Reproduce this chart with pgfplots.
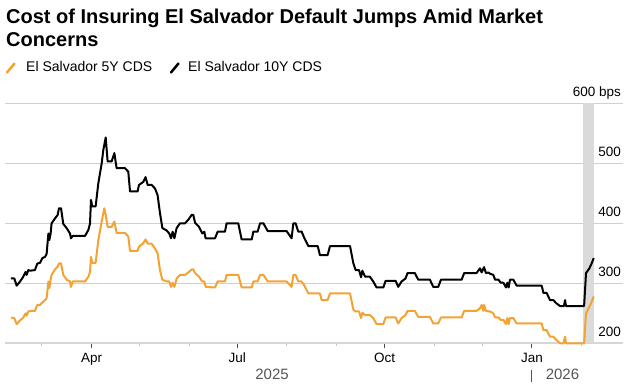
\documentclass[border=0pt]{standalone}
\usepackage{fontspec}
\setmainfont{Liberation Sans}
\usepackage{pgfplots}
\pgfplotsset{compat=1.18}
\definecolor{cdsorange}{HTML}{F4A232}
\definecolor{gridgray}{HTML}{D0D0D0}
\definecolor{axisgray}{HTML}{D6D6D6}
\definecolor{bandgray}{HTML}{DADADA}
\definecolor{yeargray}{HTML}{555555}
\begin{document}
\begin{tikzpicture}
\useasboundingbox (0pt,0pt) rectangle (633pt,390pt);
\node[anchor=base west, inner sep=0pt, font=\fontsize{20}{24}\selectfont\bfseries] at (6pt,366pt) {Cost of Insuring El Salvador Default Jumps Amid Market};
\node[anchor=base west, inner sep=0pt, font=\fontsize{20}{24}\selectfont\bfseries] at (6pt,343pt) {Concerns};
\draw[cdsorange, line width=2.5pt, line cap=round] (7pt,317.5pt) -- (14.5pt,326.5pt);
\node[anchor=base west, inner sep=0pt, font=\fontsize{14}{16}\selectfont] at (26pt,318pt) {El Salvador 5Y CDS};
\draw[black, line width=2.5pt, line cap=round] (171pt,317.5pt) -- (178.5pt,326.5pt);
\node[anchor=base west, inner sep=0pt, font=\fontsize{14}{16}\selectfont] at (188pt,318pt) {El Salvador 10Y CDS};
\begin{axis}[
  at={(5pt,46.7pt)}, anchor=south west,
  scale only axis, width=618pt, height=240pt,
  xmin=35.9, xmax=421.9, ymin=200, ymax=600,
  clip=false,
  axis line style={draw=none},
  /pgf/number format/assume math mode=true,
  xtick={90,181,273,365}, xticklabels={Apr,Jul,Oct,Jan},
  minor xtick={59,120,151,212,243,304,334,396},
  xtick pos=bottom, tick align=outside,
  major tick length=5pt, minor tick length=3pt,
  every major tick/.append style={draw=black!70, line width=1pt},
  every minor tick/.append style={draw=black!22, line width=1pt},
  xticklabel style={anchor=base, inner sep=0pt, yshift=-14.7pt, font=\fontsize{13.5}{16}\selectfont},
  ytick={200,300,400,500,600}, yticklabels={200,300,400,500,600 bps},
  ytick style={draw=none},
  yticklabel pos=right,
  yticklabel style={anchor=base east, inner sep=0pt, xshift=-7pt, yshift=6.5pt, font=\fontsize{13.5}{16}\selectfont},
  ymajorgrids, grid style={gridgray, line width=1pt},
  extra y ticks={200}, extra y tick labels={},
  extra y tick style={grid style={axisgray, line width=2pt}},
]
\fill[bandgray] (axis cs:396.8,200) rectangle (axis cs:403.6,600);
\addplot[cdsorange, line width=2pt, line join=round] coordinates {
(39.6,243) (41.7,242) (43.2,232) (45.3,238) (47.3,243) (48.8,250) (49.4,246) (50.5,253) (51.5,254) (54.6,254) (56.1,264) (57.8,264) (59.2,268) (60.9,272) (61.9,275) (63.0,303) (63.6,292) (64.4,306) (65.0,314) (67.1,323) (68.8,328) (69.6,333) (70.9,333) (72.3,314) (74.4,306) (76.5,303) (77.1,294) (78.2,303) (85.9,303) (88.0,311) (89.0,319) (89.6,344) (90.4,334) (92.5,334) (94.2,372) (96.3,403) (97.9,425) (98.8,414) (100.0,394) (102.5,394) (104.2,403) (105.6,384) (110.8,384) (112.9,378) (114.0,354) (118.7,354) (119.6,361) (122.3,367) (123.7,373) (125.0,366) (127.5,366) (129.6,358) (131.2,350) (132.7,322) (134.2,306) (136.9,303) (138.5,303) (139.6,294) (140.6,301) (141.7,294) (143.1,308) (145.2,314) (148.3,314) (150.4,318) (152.5,323) (153.5,323) (154.6,317) (157.1,311) (159.1,303) (160.4,303) (161.2,294) (167.1,293) (168.7,303) (173.3,303) (174.3,314) (181.6,314) (183.7,293) (190.0,293) (191.0,303) (193.7,303) (195.2,314) (197.3,314) (200.0,303) (211.8,303) (214.9,294) (216.0,314) (217.4,314) (219.1,303) (221.2,303) (222.9,296) (225.4,283) (232.6,283) (233.7,272) (237.4,272) (238.9,283) (251.4,283) (253.5,256) (254.9,253) (257.0,253) (258.3,242) (259.1,251) (260.8,247) (263.8,247) (265.9,242) (268.0,232) (272.2,232) (273.6,243) (279.9,243) (281.5,233) (283.6,242) (286.1,247) (287.3,254) (291.9,254) (294.0,244) (301.3,244) (303.4,233) (306.5,233) (308.2,243) (321.1,243) (322.7,254) (330.4,254) (332.5,258) (333.6,264) (334.6,254) (335.1,264) (336.3,254) (338.8,253) (340.9,250) (342.0,243) (344.1,243) (345.5,239) (347.2,239) (348.8,232) (349.7,242) (350.5,232) (351.3,242) (353.4,242) (355.5,233) (371.1,233) (372.2,222) (374.2,222) (376.3,211) (378.4,211) (380.1,206) (382.6,200) (384.7,200) (385.7,211) (386.3,200) (397.6,200) (398.8,250) (400.9,261) (402.3,269) (403.6,278)
};
\addplot[black, line width=2pt, line join=round] coordinates {
(39.6,308) (41.7,308) (43.2,296) (45.3,303) (47.3,311) (48.8,319) (49.4,314) (50.5,322) (51.5,321) (54.6,322) (56.1,333) (57.8,334) (59.2,342) (60.9,344) (61.9,349) (63.0,383) (63.6,372) (64.4,383) (65.0,400) (67.1,408) (68.8,414) (69.6,425) (70.9,425) (72.3,399) (74.4,392) (76.5,383) (77.1,375) (78.2,379) (85.9,379) (88.0,389) (89.0,400) (89.6,439) (90.4,428) (92.5,428) (94.2,467) (96.3,500) (97.3,522) (98.8,543) (100.0,503) (102.5,503) (104.2,517) (105.6,492) (110.8,492) (112.9,486) (114.0,453) (118.7,453) (119.6,464) (122.3,469) (123.7,477) (125.0,464) (127.5,464) (129.6,458) (131.2,447) (132.7,417) (134.2,392) (136.9,388) (138.5,383) (139.6,375) (140.6,386) (141.7,375) (143.1,392) (145.2,400) (148.3,400) (150.4,406) (152.5,414) (153.5,414) (154.6,401) (157.1,394) (159.1,383) (160.4,386) (161.2,375) (167.1,375) (168.7,386) (173.3,386) (174.3,400) (181.6,400) (183.7,373) (190.0,373) (191.0,386) (193.7,386) (195.2,400) (197.3,400) (200.0,387) (211.8,387) (214.9,375) (216.0,400) (217.4,400) (219.1,386) (221.2,386) (222.9,375) (225.4,362) (231.2,362) (232.6,347) (237.4,347) (238.9,362) (251.4,362) (253.5,333) (254.9,322) (257.0,322) (258.3,310) (259.1,321) (260.8,311) (263.8,311) (265.9,303) (268.0,293) (272.2,293) (273.6,304) (279.9,304) (281.5,294) (283.6,303) (286.1,308) (287.3,317) (291.9,317) (294.0,306) (301.3,306) (303.4,294) (306.5,294) (308.2,306) (321.1,306) (322.7,317) (330.4,317) (332.6,325) (333.6,318) (335.1,327) (336.3,317) (337.8,318) (338.8,316) (340.9,314) (342.0,306) (344.1,306) (345.5,301) (347.2,301) (348.8,293) (349.7,301) (350.5,293) (351.3,306) (353.4,306) (355.5,296) (371.1,296) (372.2,284) (374.2,284) (376.3,272) (378.4,272) (380.1,267) (382.6,262) (385.0,262) (385.7,272) (386.3,262) (397.6,262) (398.8,317) (400.9,325) (402.3,333) (403.6,342)
};
\node[anchor=base, inner sep=0pt, yshift=-36.7pt, text=yeargray, font=\fontsize{15}{18}\selectfont] at (axis cs:202.7,200) {2025};
\node[anchor=base, inner sep=0pt, yshift=-36.7pt, text=yeargray, font=\fontsize{15}{18}\selectfont] at (axis cs:384.1,200) {2026};
\draw[yeargray, line width=1pt] (axis cs:365,200) ++(0pt,-27pt) -- ++(0pt,-12pt);
\end{axis}
\end{tikzpicture}
\end{document}
